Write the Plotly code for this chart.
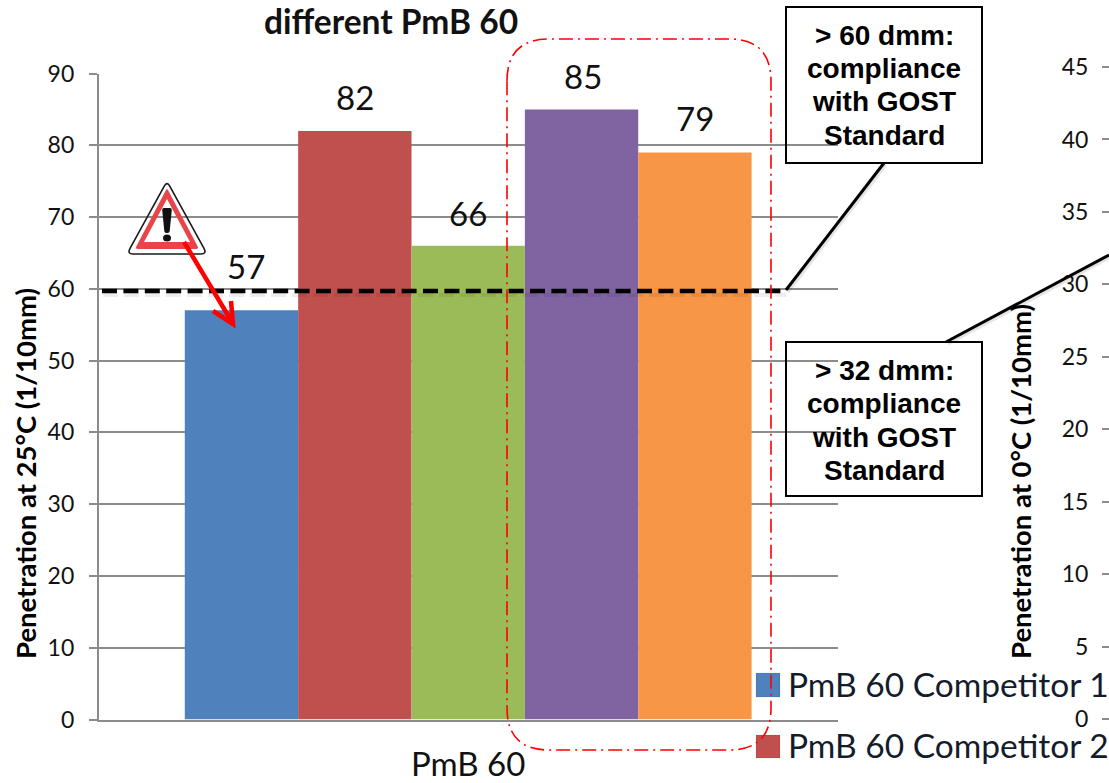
import plotly.graph_objects as go

W, H = 1109, 783

# ---- data ----
category = ["PmB 60"]
series_names = ["PmB 60 Competitor 1", "PmB 60 Competitor 2", "PmB 60 Competitor 3",
                "PmB 60 Competitor 4", "PmB 60 Competitor 5"]
penetration_25 = [57, 82, 66, 85, 79]
left_ticks = [0, 10, 20, 30, 40, 50, 60, 70, 80, 90]
right_ticks = [0, 5, 10, 15, 20, 25, 30, 35, 40, 45]
legend_shown = ["PmB 60 Competitor 1", "PmB 60 Competitor 2"]
box_texts = [["> 60 dmm:", "compliance", "with GOST", "Standard"],
             ["> 32 dmm:", "compliance", "with GOST", "Standard"]]

# ---- style ----
colors = ["#4F81BD", "#C0504D", "#9BBB59", "#8064A2", "#F79646"]
GRID = "#8c8c8c"
CAL = "Lato, Carlito, Calibri, sans-serif"
ARIAL = "Liberation Sans, Arial, sans-serif"
GROUP = 0.767
label_yshift = [44, 34, 33, 33, 34]
label_xshift = [5, 0, 0, 1, 0]


def px(x):
    return x / W


def py(y):
    return 1 - y / H


def P(pts, close=False):
    s = "M " + " L ".join(f"{px(x):.5f},{py(y):.5f}" for x, y in pts)
    return s + (" Z" if close else "")


def rounded(pts, r):
    """closed polygon with rounded corners, pixel input, paper output"""
    out = []
    n = len(pts)
    for i in range(n):
        x0, y0 = pts[i - 1]
        x1, y1 = pts[i]
        x2, y2 = pts[(i + 1) % n]
        d0 = ((x0 - x1) ** 2 + (y0 - y1) ** 2) ** .5
        d2 = ((x2 - x1) ** 2 + (y2 - y1) ** 2) ** .5
        a = (x1 + (x0 - x1) * r / d0, y1 + (y0 - y1) * r / d0)
        b = (x1 + (x2 - x1) * r / d2, y1 + (y2 - y1) * r / d2)
        cmd = "M" if i == 0 else "L"
        out.append(f"{cmd} {px(a[0]):.5f},{py(a[1]):.5f} Q {px(x1):.5f},{py(y1):.5f} {px(b[0]):.5f},{py(b[1]):.5f}")
    return " ".join(out) + " Z"


def shape_path(path, **kw):
    return dict(type="path", path=path, xref="paper", yref="paper", **kw)


fig = go.Figure()
for name, val, col in zip(series_names, penetration_25, colors):
    fig.add_trace(go.Bar(x=category, y=[val], name=name, marker=dict(color=col, line=dict(width=0)),
                         showlegend=False, hoverinfo="skip"))
# keeps the cut-off second chart's axis on the page
fig.add_trace(go.Scatter(x=[None], y=[None], yaxis="y2", showlegend=False, hoverinfo="skip"))

shapes = []
# shadows, dashed limit line and connectors
shapes.append(shape_path(P([(103, 295), (786, 295)]), line=dict(color="rgba(0,0,0,0.07)", width=4, dash="15px,6px")))
shapes.append(shape_path(P([(102, 291), (786, 291)]), line=dict(color="#000", width=4.6, dash="15px,6.4px")))
shapes.append(shape_path(P([(788, 292), (886, 165)]), line=dict(color="rgba(0,0,0,0.10)", width=3)))
shapes.append(shape_path(P([(786, 290), (884, 163)]), line=dict(color="#000", width=3)))
shapes.append(shape_path(P([(948, 344), (1109, 258)]), line=dict(color="rgba(0,0,0,0.10)", width=3)))
shapes.append(shape_path(P([(946, 342), (1109, 255)]), line=dict(color="#000", width=3)))

# text boxes
for top, bottom in [(7, 163), (342, 496)]:
    shapes.append(shape_path(P([(786, top), (982, top), (982, bottom), (786, bottom)], True),
                             line=dict(color="#000", width=2), fillcolor="rgba(0,0,0,0)"))

# legend swatches (the chart's own legend is cut by the page edge)
for (top, bottom), col in zip([(673, 697), (735, 758)], colors):
    shapes.append(shape_path(P([(756, top), (780, top), (780, bottom), (756, bottom)], True),
                             line=dict(color="rgba(0,0,0,0.08)", width=1), fillcolor=col))

# red rounded highlight
l, r_, t, b, rad = 507, 771, 39, 750, 42
red = (f"M {px(l)},{py(t+rad)} Q {px(l)},{py(t)} {px(l+rad)},{py(t)} L {px(r_-rad)},{py(t)} "
       f"Q {px(r_)},{py(t)} {px(r_)},{py(t+rad)} L {px(r_)},{py(b-rad)} Q {px(r_)},{py(b)} {px(r_-rad)},{py(b)} "
       f"L {px(l+rad)},{py(b)} Q {px(l)},{py(b)} {px(l)},{py(b-rad)} Z")
shapes.append(shape_path(red, line=dict(color="#ff0000", width=1.6, dash="14px,5px,2px,5px")))

# warning sign
outer = [(167, 181), (207, 254), (127, 254)]
ring_o = [(167, 188), (199, 249), (135, 249)]
ring_i = [(167, 199), (190, 242), (144, 242)]
shapes.append(shape_path(rounded(outer, 6), line=dict(color="#1a1a1a", width=1.6), fillcolor="rgba(0,0,0,0)"))
shapes.append(shape_path(rounded(ring_o, 3) + " " + P(ring_i, True), line=dict(width=0),
                         fillcolor="#E8444A", fillrule="evenodd"))
shapes.append(shape_path(rounded([(162, 208), (172, 208), (169.5, 233), (164.5, 233)], 2),
                         line=dict(width=0), fillcolor="#111"))
shapes.append(dict(type="circle", xref="paper", yref="paper", x0=px(163), x1=px(171), y0=py(241.5), y1=py(234.5),
                   fillcolor="#111", line=dict(width=0)))

# red arrow
shapes.append(shape_path(P([(184, 242), (232, 322)]), line=dict(color="#ff0000", width=4.5)))
shapes.append(shape_path(P([(213, 311), (233, 324), (231, 301)]), line=dict(color="#ff0000", width=4.5)))

ann = []
for i, (v, ys, xs) in enumerate(zip(penetration_25, label_yshift, label_xshift)):
    ann.append(dict(x=(i - 2) * GROUP / 5, y=v, xref="x", yref="y", text=str(v), showarrow=False,
                    yanchor="middle", xanchor="center", yshift=ys, xshift=xs,
                    font=dict(family=CAL, size=33, color="#111")))
# box text
for lines, ys in zip(box_texts, [(36, 69, 102, 135), (370, 403, 437, 470)]):
    for line, y in zip(lines, ys):
        ann.append(dict(x=px(884), y=py(y), xref="paper", yref="paper", text=line, showarrow=False,
                        xanchor="center", yanchor="middle", font=dict(family=ARIAL, size=28, color="#000", weight="bold")))
# y titles placed by hand since they sit off-centre in the reference
for text, x, y in [("Penetration at 25°C (1/10mm)", 25, 474), ("Penetration at 0°C (1/10mm)", 1020, 482)]:
    ann.append(dict(x=px(x), y=py(y), xref="paper", yref="paper", text=text, showarrow=False, textangle=-90,
                    xanchor="center", yanchor="middle", font=dict(family=CAL, size=27.5, color="#000", weight="bold")))
# legend text
for name, y in zip(legend_shown, [684, 745]):
    ann.append(dict(x=px(786), y=py(y), xref="paper", yref="paper", text=name, showarrow=False,
                    xanchor="left", yanchor="middle", font=dict(family=CAL, size=33.5, color="#141c2c")))

fig.update_layout(
    width=W, height=H, autosize=False, margin=dict(l=0, r=0, t=0, b=0, autoexpand=False),
    paper_bgcolor="white", plot_bgcolor="rgba(0,0,0,0)",
    barmode="group", bargap=1 - GROUP, bargroupgap=0, showlegend=False,
    title=dict(text="<b>different PmB 60</b>", x=px(391), y=py(22), xref="paper", yref="paper",
               xanchor="center", yanchor="middle", font=dict(family=CAL, size=33.5, color="#111")),
    xaxis=dict(domain=[px(98.7), px(837.7)], type="category", showline=True, linecolor=GRID, linewidth=2, ticks="",
               tickfont=dict(family=CAL, size=33, color="#111"), showgrid=False, ticklabelstandoff=15),
    yaxis=dict(domain=[py(719.5), py(73.5)], range=[0, 90], tickvals=left_ticks, showgrid=True, gridcolor=GRID,
               gridwidth=1.6, zeroline=False, showline=True, linecolor=GRID, linewidth=1.6, ticks="outside",
               ticklen=8, tickcolor=GRID, tickwidth=1.6, ticklabelstandoff=10,
               tickfont=dict(family=CAL, size=23, color="#111")),
    yaxis2=dict(domain=[py(719), py(67)], range=[0, 45], tickvals=right_ticks, anchor="free", position=1.0,
                side="left", showgrid=False, zeroline=False, showline=False, ticks="outside", ticklen=7,
                tickcolor=GRID, tickwidth=1.6, ticklabelstandoff=9,
                tickfont=dict(family=CAL, size=23, color="#111")),
    shapes=shapes, annotations=ann,
)

fig.write_html("out.html", config=dict(displayModeBar=False),
               post_script="document.body.style.margin='0';document.body.style.overflow='hidden';")
